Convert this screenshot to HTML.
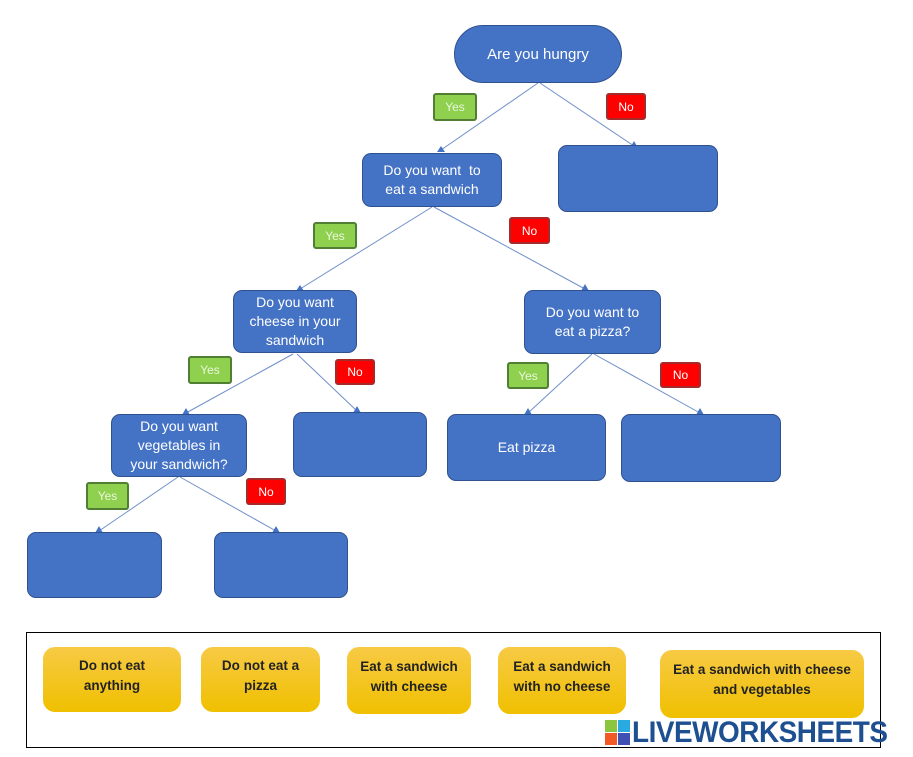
<!DOCTYPE html>
<html><head><meta charset="utf-8"><style>
body{margin:0;width:913px;height:757px;background:#fff;position:relative;overflow:hidden;font-family:"Liberation Sans",sans-serif;}
.b{position:absolute;background:#4472c4;border:1px solid #2f528f;border-radius:9px;color:#fff;font-size:14px;display:flex;align-items:center;justify-content:center;text-align:center;line-height:19px;box-sizing:border-box;}
.y{position:absolute;background:#8fd14f;border:2px solid #507e32;border-radius:3px;color:#eaf6dc;font-size:12px;display:flex;align-items:center;justify-content:center;box-sizing:border-box;}
.n{position:absolute;background:#ff0000;border:2px solid #a52a2a;border-radius:3px;color:#fff;font-size:12px;display:flex;align-items:center;justify-content:center;box-sizing:border-box;}
.g{position:absolute;background:linear-gradient(#f7ca45,#f0c000);border-radius:12px;color:#222;font-weight:bold;font-size:13.5px;line-height:20px;display:flex;align-items:center;justify-content:center;text-align:center;box-sizing:border-box;padding-bottom:8px;}
</style></head><body>
<svg width="913" height="757" style="position:absolute;left:0;top:0">
<g stroke="#6f8fca" stroke-width="1" fill="none">
<line x1="538" y1="83" x2="441" y2="150"/><line x1="540" y1="83" x2="634" y2="146"/>
<line x1="432" y1="207" x2="300" y2="289"/><line x1="434" y1="207" x2="585" y2="289"/>
<line x1="293" y1="354" x2="186" y2="413"/><line x1="297" y1="354" x2="357" y2="411"/>
<line x1="592" y1="354" x2="528" y2="413"/><line x1="594" y1="354" x2="700" y2="413"/>
<line x1="178" y1="477" x2="99" y2="531"/><line x1="180" y1="477" x2="276" y2="531"/>
</g>
<g fill="#4472c4">
<polygon points="437,152 441,146 445,152"/><polygon points="630,148 634,141 638,148"/>
<polygon points="296,291 300,285 304,291"/><polygon points="581,291 585,284 589,291"/>
<polygon points="182,415 186,408 190,415"/><polygon points="353,413 357,406 361,413"/>
<polygon points="524,415 528,408 532,415"/><polygon points="696,415 700,408 704,415"/>
<polygon points="95,533 99,526 103,533"/><polygon points="272,533 276,526 280,533"/>
</g>
</svg>
<div class="b" style="left:454px;top:25px;width:168px;height:58px;border-radius:29px;font-size:15px">Are you hungry</div>
<div class="y" style="left:433px;top:93px;width:44px;height:28px">Yes</div>
<div class="n" style="left:606px;top:93px;width:40px;height:27px">No</div>
<div class="b" style="left:558px;top:145px;width:160px;height:67px"></div>
<div class="b" style="left:362px;top:153px;width:140px;height:54px">Do you want &nbsp;to<br>eat a sandwich</div>
<div class="y" style="left:313px;top:222px;width:44px;height:27px">Yes</div>
<div class="n" style="left:509px;top:217px;width:41px;height:27px">No</div>
<div class="b" style="left:233px;top:290px;width:124px;height:63px">Do you want<br>cheese in your<br>sandwich</div>
<div class="b" style="left:524px;top:290px;width:137px;height:64px">Do you want to<br>eat a pizza?</div>
<div class="y" style="left:188px;top:356px;width:44px;height:28px">Yes</div>
<div class="n" style="left:335px;top:359px;width:40px;height:26px">No</div>
<div class="y" style="left:507px;top:362px;width:42px;height:27px">Yes</div>
<div class="n" style="left:660px;top:362px;width:41px;height:26px">No</div>
<div class="b" style="left:111px;top:414px;width:136px;height:63px">Do you want<br>vegetables in<br>your sandwich?</div>
<div class="b" style="left:293px;top:412px;width:134px;height:65px"></div>
<div class="b" style="left:447px;top:414px;width:159px;height:67px">Eat pizza</div>
<div class="b" style="left:621px;top:414px;width:160px;height:68px"></div>
<div class="y" style="left:86px;top:482px;width:43px;height:28px">Yes</div>
<div class="n" style="left:246px;top:478px;width:40px;height:27px">No</div>
<div class="b" style="left:27px;top:532px;width:135px;height:66px"></div>
<div class="b" style="left:214px;top:532px;width:134px;height:66px"></div>
<div style="position:absolute;left:26px;top:632px;width:855px;height:116px;border:1px solid #000;box-sizing:border-box"></div>
<div class="g" style="left:43px;top:647px;width:138px;height:65px">Do not eat<br>anything</div>
<div class="g" style="left:201px;top:647px;width:119px;height:65px">Do not eat a<br>pizza</div>
<div class="g" style="left:347px;top:647px;width:124px;height:67px">Eat a sandwich<br>with cheese</div>
<div class="g" style="left:498px;top:647px;width:128px;height:67px">Eat a sandwich<br>with no cheese</div>
<div class="g" style="left:660px;top:650px;width:204px;height:68px">Eat a sandwich with cheese<br>and vegetables</div>
<div style="position:absolute;left:605px;top:720px;width:26px;height:26px">
<div style="position:absolute;left:0;top:0;width:12px;height:12px;background:#8cc63f"></div>
<div style="position:absolute;left:13px;top:0;width:12px;height:12px;background:#29abe2"></div>
<div style="position:absolute;left:0;top:13px;width:12px;height:12px;background:#f15a24"></div>
<div style="position:absolute;left:13px;top:13px;width:12px;height:12px;background:#3f51b5"></div>
</div>
<div style="position:absolute;left:632px;top:714px;font-size:30px;font-weight:bold;color:#1d4f91;letter-spacing:-0.5px;line-height:38px;transform:scaleX(0.93);transform-origin:0 0;white-space:nowrap">LIVEWORKSHEETS</div>
</body></html>
